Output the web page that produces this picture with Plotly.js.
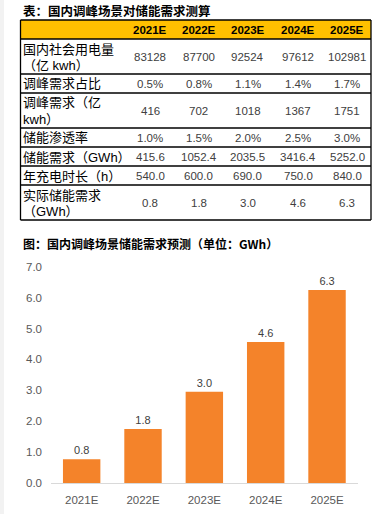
<!DOCTYPE html>
<html>
<head>
<meta charset="utf-8">
<script src="https://cdn.plot.ly/plotly-3.0.1.min.js"></script>
<style>
html,body{margin:0;padding:0;background:#fff;}
#chart{width:388px;height:514px;}
</style>
</head>
<body>
<div id="chart"></div>
<script>
// ---------- data ----------
const years = ['2021E', '2022E', '2023E', '2024E', '2025E'];
const rowLabels = [
  ['国内社会用电量', '（亿 kwh）'],
  ['调峰需求占比'],
  ['调峰需求（亿', 'kwh）'],
  ['储能渗透率'],
  ['储能需求（GWh）'],
  ['年充电时长（h）'],
  ['实际储能需求', '（GWh）']
];
const electricity = ['83128', '87700', '92524', '97612', '102981'];
const peakShare = ['0.5%', '0.8%', '1.1%', '1.4%', '1.7%'];
const peakDemand = ['416', '702', '1018', '1367', '1751'];
const storagePenetration = ['1.0%', '1.5%', '2.0%', '2.5%', '3.0%'];
const storageDemandGWh = ['415.6', '1052.4', '2035.5', '3416.4', '5252.0'];
const chargeHours = ['540.0', '600.0', '690.0', '750.0', '840.0'];
const actualDemandLabels = ['0.8', '1.8', '3.0', '4.6', '6.3'];
const actualDemand = [0.77, 1.75, 2.95, 4.56, 6.25];
const tableRows = [electricity, peakShare, peakDemand, storagePenetration, storageDemandGWh, chargeHours, actualDemandLabels];
const tableTitle = '表：国内调峰场景对储能需求测算';
const chartTitle = '图：国内调峰场景储能需求预测（单位：GWh）';

(function () {
// ---------- layout helpers (pixels -> paper) ----------
const W = 388, H = 514;
const px = x => x / W;
const py = y => 1 - y / H;
const FONT = 'Liberation Sans, Arial, Noto Sans CJK SC, sans-serif';
const CJK = 'Noto Sans CJK SC, Liberation Sans, sans-serif';

const tableLeft = 20.5, tableRight = 371, tableTop = 20, headerBottom = 39;
const rowBottoms = [74, 93, 128, 147, 166, 185, 220];
const colCenters = [150, 199, 248, 298, 347];

const shapes = [];
const annotations = [];

shapes.push({type: 'rect', xref: 'paper', yref: 'paper', x0: 0, x1: px(4), y0: 0, y1: 1,
  fillcolor: '#F2F2F2', line: {width: 0}, layer: 'below'});
shapes.push({type: 'rect', xref: 'paper', yref: 'paper', x0: px(tableLeft), x1: px(tableRight),
  y0: py(headerBottom), y1: py(tableTop), fillcolor: '#FFC000', line: {width: 0}, layer: 'below'});
[tableTop, headerBottom, ...rowBottoms].forEach(y => {
  shapes.push({type: 'line', xref: 'paper', yref: 'paper', x0: px(tableLeft), x1: px(tableRight),
    y0: py(y), y1: py(y), line: {color: '#000', width: 1.3}});
});
[tableLeft, tableRight].forEach(x => {
  shapes.push({type: 'line', xref: 'paper', yref: 'paper', x0: px(x), x1: px(x),
    y0: py(tableTop), y1: py(rowBottoms[rowBottoms.length - 1]), line: {color: '#000', width: 1.3}});
});

annotations.push({text: '<b>' + tableTitle + '</b>', xref: 'paper', yref: 'paper', x: px(21), y: py(10.5),
  xanchor: 'left', yanchor: 'middle', showarrow: false, font: {family: CJK, size: 12.5, color: '#000'}});
annotations.push({text: '<b>' + chartTitle + '</b>', xref: 'paper', yref: 'paper', x: px(21), y: py(243),
  xanchor: 'left', yanchor: 'middle', showarrow: false, font: {family: CJK, size: 12, color: '#000'}});

years.forEach((yr, i) => {
  annotations.push({text: '<b>' + yr + '</b>', xref: 'paper', yref: 'paper', x: px(colCenters[i]),
    y: py((tableTop + headerBottom) / 2 + 0.5), xanchor: 'center', yanchor: 'middle', showarrow: false,
    font: {family: FONT, size: 11.5, color: '#000'}});
});

let rowTop = headerBottom;
rowLabels.forEach((lines, r) => {
  const bottom = rowBottoms[r];
  const mid = (rowTop + bottom) / 2;
  const n = lines.length;
  const lh = 16;
  lines.forEach((ln, k) => {
    const y = mid + (k - (n - 1) / 2) * lh;
    annotations.push({text: ln, xref: 'paper', yref: 'paper', x: px(tableLeft + 0.5), y: py(y + 0.5),
      xanchor: 'left', yanchor: 'middle', showarrow: false,
      font: {family: FONT, size: 13, color: '#000'}});
  });
  tableRows[r].forEach((v, i) => {
    annotations.push({text: v, xref: 'paper', yref: 'paper', x: px(colCenters[i]), y: py(mid + 0.5),
      xanchor: 'center', yanchor: 'middle', showarrow: false,
      font: {family: FONT, size: 11.5, color: '#404040'}});
  });
  rowTop = bottom;
});

const trace = {
  type: 'bar',
  x: years,
  y: actualDemand,
  text: actualDemandLabels,
  texttemplate: '%{text}',
  textposition: 'outside',
  cliponaxis: false,
  textfont: {family: FONT, size: 11, color: '#404040'},
  marker: {color: '#F4832A', line: {width: 0}},
  hoverinfo: 'none'
};

const layout = {
  width: W, height: H,
  margin: {l: 0, r: 0, t: 0, b: 0, pad: 0},
  paper_bgcolor: '#fff', plot_bgcolor: '#fff',
  showlegend: false,
  bargap: 0.39,
  xaxis: {
    domain: [px(51), px(357.7)],
    showline: true, linecolor: '#D9D9D9', linewidth: 1.3,
    ticks: '', showgrid: false, zeroline: false,
    tickfont: {family: FONT, size: 11.5, color: '#595959'},
    ticklabelstandoff: 6
  },
  yaxis: {
    domain: [py(483), py(266.7)],
    range: [0, 7], dtick: 1, tick0: 0, tickformat: '.1f',
    showline: false, showgrid: false, zeroline: false, ticks: '',
    tickfont: {family: FONT, size: 11.5, color: '#595959'},
    ticklabelstandoff: 8
  },
  shapes: shapes,
  annotations: annotations
};

Plotly.newPlot('chart', [trace], layout, {displayModeBar: false, staticPlot: true});
})();
</script>
</body>
</html>
